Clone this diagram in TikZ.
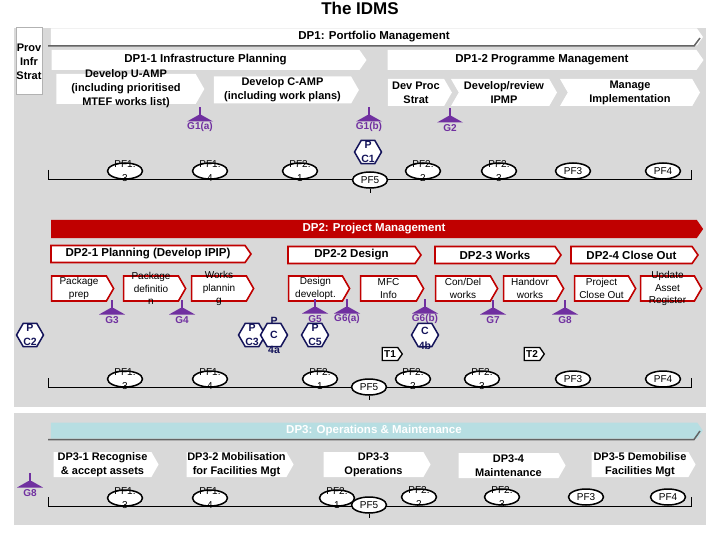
\documentclass[tikz,border=0pt]{standalone}
\usepackage{fontspec}
\setmainfont{Liberation Sans}
\usepackage{tikz}
\usetikzlibrary{shapes.geometric,shapes.symbols}

\definecolor{bggray}{RGB}{217,217,217}
\definecolor{gatecol}{RGB}{112,48,160}
\definecolor{hexcol}{RGB}{20,20,90}
\definecolor{dpred}{RGB}{192,0,0}
\definecolor{dpteal}{RGB}{183,222,226}
\definecolor{shadowgray}{RGB}{100,100,100}

\tikzset{
  btxt/.style={font=\bfseries\fontsize{11}{14}\selectfont, align=center, inner sep=0pt},
  rtxt/.style={font=\fontsize{10}{12.5}\selectfont, align=center, inner sep=0pt},
  ptxt/.style={font=\fontsize{10}{14}\selectfont, align=center, inner sep=0pt},
  htxt/.style={font=\bfseries\fontsize{10.5}{14.5}\selectfont, text=hexcol, align=center, inner sep=0pt},
  glbl/.style={font=\bfseries\fontsize{10}{11}\selectfont, text=gatecol, inner sep=0pt},
  band/.style={signal, signal to=east, signal pointer angle=110, inner sep=0pt, font=\bfseries\fontsize{11.5}{12}\selectfont},
  redband/.style={fill=white, draw=dpred, line width=1.6pt},
  bandshadow/.style={draw=shadowgray, line width=1.5pt},
  stage/.style={signal, signal to=east, signal pointer angle=120, fill=white, inner sep=0pt, label={[btxt]center:{#1}}},
  redstage/.style={signal, signal to=east, signal pointer angle=120, fill=white, draw=dpred, line width=1.6pt, inner sep=0pt, minimum height=25pt, label={[rtxt]center:{#1}}},
  hexa/.style={regular polygon, regular polygon sides=6, minimum size=27pt, inner sep=0pt, draw=hexcol, line width=1.5pt, fill=white, label={[htxt]center:{#1}}},
  pf/.style={ellipse, minimum width=35pt, minimum height=16pt, inner sep=0pt, draw, line width=1.5pt, fill=white, label={[ptxt]center:{#1}}},
  pfline/.style={line width=0.8pt},
  tflag/.style={signal, signal to=east, signal pointer angle=110, draw, line width=1.3pt, fill=white, minimum width=20pt, minimum height=13pt, inner sep=1pt, font=\bfseries\fontsize{10}{11}\selectfont},
  gate/.pic={
    \fill[gatecol] (-1,-20) rectangle (1,-10);
    \fill[gatecol] (-1.5,-12) -- (1.5,-12) -- (13,-5.5) -- (-13,-5.5) -- cycle;
  }
}

\begin{document}
\begin{tikzpicture}[x=1pt, y=-1pt]
\useasboundingbox (0,0) rectangle (720,540);
\fill[bggray] (14,28) rectangle (706,407);
\fill[bggray] (14,413) rectangle (706,525);
\node[font=\bfseries\fontsize{17}{18}\selectfont] (title) at (360,8) {The IDMS};

% DP1
\node[draw=gray!60, line width=1pt, fill=white, minimum width=26pt, minimum height=67pt] (prov) at (29,61.5) {};
\node[btxt] (provtxt) at (prov) {Prov\\Infr\\Strat};
\node[band, fill=white, minimum width=652pt, minimum height=17pt] (dp1) at (374,37) {DP1: Portfolio Management};
\draw[bandshadow] (48,46) -- (694,46) -- (700,38);
\node[band, fill=white, minimum width=315pt, minimum height=20pt] (dp11) at (205.5,60) {DP1-1 Infrastructure Planning};
\node[band, fill=white, minimum width=316pt, minimum height=20pt] (dp12) at (542,60) {DP1-2 Programme Management};
\node[stage={Develop U-AMP\\(including prioritised\\MTEF works list)}, minimum width=148pt, minimum height=30pt] (uamp) at (126,89) {};
\node[stage={Develop C-AMP\\(including work plans)}, minimum width=145pt, minimum height=27pt] (camp) at (282.5,90) {};
\node[stage={Dev Proc\\Strat}, minimum width=64pt, minimum height=27pt] (devproc) at (416,92.5) {};
\node[stage={Develop/review\\IPMP}, signal from=west, minimum width=106pt, minimum height=27pt] (ipmp) at (504,92.5) {};
\node[stage={Manage\\Implementation}, signal from=west, minimum width=140pt, minimum height=27pt] (manage) at (630,92.5) {};

\node[glbl] (g1a) at (200,127) {G1(a)};
\node[glbl] (g1b) at (369,127) {G1(b)};
\node[glbl] (g2) at (450,128) {G2};
\pic at (g1a) {gate};
\pic at (g1b) {gate};
\pic at (g2) {gate};
\node[hexa={P\\C1}] (pc1) at (368,152) {};

\coordinate (r1w) at (48,179);
\coordinate (r1e) at (691,179);
\draw[pfline] (r1w) ++(0,-9) -- (r1w) -- (r1e) -- ++(0,-9);
\node[pf={PF1.\\3}] (pf13a) at (125,171) {};
\node[pf={PF1.\\4}] (pf14a) at (210,171) {};
\node[pf={PF2.\\1}] (pf21a) at (300,171) {};
\node[pf=PF5] (pf5a) at (370,180) {};
\draw[pfline] (pf5a.south) -- ++(0,4);
\node[pf={PF2.\\2}] (pf22a) at (423,171) {};
\node[pf={PF2.\\3}] (pf23a) at (499,171) {};
\node[pf=PF3] (pf3a) at (573,171) {};
\node[pf=PF4] (pf4a) at (663,171) {};

% DP2
\node[band, fill=dpred, text=white, minimum width=652pt, minimum height=18pt] (dp2) at (374,229) {DP2: Project Management};
\node[band, redband, minimum width=200pt, minimum height=17pt] (dp21) at (148,254) {DP2-1 Planning (Develop IPIP)};
\node[band, redband, minimum width=133pt, minimum height=17pt] (dp22) at (351.5,255) {DP2-2 Design};
\node[band, redband, minimum width=126pt, minimum height=17pt] (dp23) at (495,255) {DP2-3 Works};
\node[band, redband, minimum width=127pt, minimum height=17pt] (dp24) at (631.5,255) {DP2-4 Close Out};
\node[redstage={Package\\prep}, minimum width=62pt] (pprep) at (79,288.5) {};
\node[redstage={Package\\definitio\\n}, minimum width=62pt] (pdef) at (151,288.5) {};
\node[redstage={Works\\plannin\\g}, minimum width=62pt] (wplan) at (219,288.5) {};
\node[redstage={Design\\developt.}, minimum width=61pt] (design) at (315.5,288.5) {};
\node[redstage={MFC\\Info}, minimum width=63pt] (mfc) at (388.5,288.5) {};
\node[redstage={Con/Del\\works}, minimum width=62pt] (condel) at (463,288.5) {};
\node[redstage={Handovr\\works}, minimum width=60pt] (handovr) at (530,288.5) {};
\node[redstage={Project\\Close Out}, minimum width=61pt] (closeout) at (601.5,288.5) {};
\node[redstage={Update\\Asset\\Register}, minimum width=61pt] (update) at (667.5,288.5) {};

\node[glbl] (g3) at (112,320) {G3};
\node[glbl] (g4) at (182,320) {G4};
\node[glbl] (g5) at (315,319) {G5};
\node[glbl] (g6a) at (347,319) {G6(a)};
\node[glbl] (g6b) at (425,319) {G6(b)};
\node[glbl] (g7) at (493,320) {G7};
\node[glbl] (g8a) at (565,320) {G8};
\pic at (g3) {gate};
\pic at (g4) {gate};
\pic at (g5) {gate};
\pic at (g6a) {gate};
\pic at (g6b) {gate};
\pic at (g7) {gate};
\pic at (g8a) {gate};
\node[hexa={P\\C2}] (pc2) at (30,335) {};
\node[hexa={P\\C3}] (pc3) at (252,335) {};
\node[hexa={P\\C\\4a}] (pc4a) at (274,335) {};
\node[hexa={P\\C5}] (pc5) at (315,335) {};
\node[hexa={~\\C\\4b}] (pc4b) at (425,335) {};
\node[tflag] (t1) at (390,354) {T1};
\node[tflag] (t2) at (532,354) {T2};

\coordinate (r2w) at (48,387);
\coordinate (r2e) at (691,387);
\draw[pfline] (r2w) ++(0,-9) -- (r2w) -- (r2e) -- ++(0,-9);
\node[pf={PF1.\\3}] (pf13b) at (125,379) {};
\node[pf={PF1.\\4}] (pf14b) at (210,379) {};
\node[pf={PF2.\\1}] (pf21b) at (320,379) {};
\node[pf=PF5] (pf5b) at (369,387) {};
\draw[pfline] (pf5b.south) -- ++(0,4);
\node[pf={PF2.\\2}] (pf22b) at (413,379) {};
\node[pf={PF2.\\3}] (pf23b) at (482,379) {};
\node[pf=PF3] (pf3b) at (573,379) {};
\node[pf=PF4] (pf4b) at (663,379) {};

% DP3
\node[band, fill=dpteal, text=white, minimum width=652pt, minimum height=16pt] (dp3) at (374,430.5) {DP3: Operations \& Maintenance};
\draw[bandshadow] (48,439.5) -- (694,439.5) -- (700,431);
\node[stage={DP3-1 Recognise\\\& accept assets}, minimum width=105pt, minimum height=25pt] (dp31) at (102.5,464.5) {};
\node[stage={DP3-2 Mobilisation\\for Facilities Mgt}, minimum width=107pt, minimum height=25pt] (dp32) at (236.5,464.5) {};
\node[stage={DP3-3\\Operations}, minimum width=107pt, minimum height=25pt] (dp33) at (373.5,464.5) {};
\node[stage={DP3-4\\Maintenance}, minimum width=107pt, minimum height=25pt] (dp34) at (508.5,465.5) {};
\node[stage={DP3-5 Demobilise\\Facilities Mgt}, minimum width=104pt, minimum height=25pt] (dp35) at (640,464.5) {};
\node[glbl] (g8b) at (30,493) {G8};
\pic at (g8b) {gate};

\coordinate (r3w) at (48,506);
\coordinate (r3e) at (691,506);
\draw[pfline] (r3w) ++(0,-9) -- (r3w) -- (r3e) -- ++(0,-9);
\node[pf={PF1.\\3}] (pf13c) at (125,498) {};
\node[pf={PF1.\\4}] (pf14c) at (210,498) {};
\node[pf={PF2.\\1}] (pf21c) at (337,498) {};
\node[pf=PF5] (pf5c) at (369,505) {};
\draw[pfline] (pf5c.south) -- ++(0,4);
\node[pf={PF2.\\2}] (pf22c) at (419,497) {};
\node[pf={PF2.\\3}] (pf23c) at (502,497) {};
\node[pf=PF3] (pf3c) at (586,497) {};
\node[pf=PF4] (pf4c) at (668,497) {};
\end{tikzpicture}
\end{document}
